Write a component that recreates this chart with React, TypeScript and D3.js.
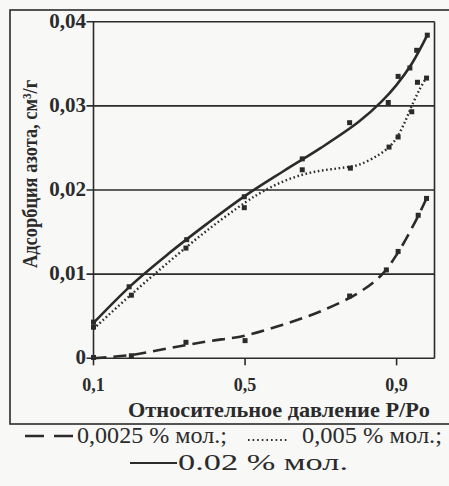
import React from 'react'
import { scaleLinear, line, curveCatmullRom } from 'd3'

// measured points (square markers): relative pressure P/Po -> adsorption, cm3/g
const xSolid = [0.1, 0.194, 0.346, 0.498, 0.651, 0.776, 0.878, 0.904, 0.935, 0.953, 0.981]
const ySolid = [0.0043, 0.0085, 0.0141, 0.0192, 0.0237, 0.028, 0.0304, 0.0335, 0.0345, 0.0366, 0.0384]

const xDotted = [0.1, 0.2, 0.344, 0.498, 0.651, 0.778, 0.88, 0.904, 0.94, 0.955, 0.979]
const yDotted = [0.0037, 0.0075, 0.0131, 0.0179, 0.0224, 0.0226, 0.0251, 0.0263, 0.0293, 0.0328, 0.0333]

const xDashed = [0.1, 0.2, 0.344, 0.5, 0.776, 0.873, 0.904, 0.957, 0.979]
const yDashed = [0.0001, 0.0003, 0.0019, 0.0021, 0.0074, 0.0105, 0.0127, 0.017, 0.019]

// the smoothed trend lines as they are drawn in the scan
const xSolidFit = [0.1, 0.2, 0.3, 0.4, 0.5, 0.6, 0.7, 0.8, 0.86, 0.9, 0.94, 0.981]
const ySolidFit = [0.0042, 0.0087, 0.0125, 0.016, 0.0193, 0.0222, 0.025, 0.0281, 0.0305, 0.0325, 0.035, 0.0384]

const xDottedFit = [0.1, 0.2, 0.3, 0.4, 0.5, 0.55, 0.6, 0.65, 0.7, 0.75, 0.8, 0.85, 0.88, 0.9, 0.92, 0.94, 0.96, 0.979]
const yDottedFit = [0.0035, 0.0076, 0.0115, 0.0152, 0.0185, 0.0199, 0.021, 0.0218, 0.0223, 0.0226, 0.023, 0.0241, 0.0251, 0.0262, 0.0279, 0.03, 0.0319, 0.0334]

const xDashedFit = [0.1, 0.2, 0.3, 0.4, 0.5, 0.6, 0.7, 0.8, 0.86, 0.9, 0.95, 0.979]
const yDashedFit = [0.0, 0.0004, 0.0012, 0.002, 0.0027, 0.004, 0.0056, 0.0078, 0.0099, 0.0123, 0.0163, 0.019]

const yTicks = [0, 0.01, 0.02, 0.03, 0.04]
const yTickLabels = ['0', '0,01', '0,02', '0,03', '0,04']
const xTicks = [0.1, 0.5, 0.9]
const xTickLabels = ['0,1', '0,5', '0,9']

const width = 449
const height = 486
const ink = '#2b2b2b'
const serif = { fontFamily: "'Liberation Serif', 'Times New Roman', serif" }

const x = scaleLinear().domain([0.1, 1.0]).range([93.5, 434.5])
const y = scaleLinear().domain([0, 0.04]).range([358.3, 21.7])

const toPts = (xs: number[], ys: number[]): [number, number][] => xs.map((v, i) => [v, ys[i]])

const curve = line<[number, number]>()
  .x(d => x(d[0]))
  .y(d => y(d[1]))
  .curve(curveCatmullRom)

const series = [
  { pts: toPts(xSolid, ySolid), fit: toPts(xSolidFit, ySolidFit), dash: 'none', w: 2.6 },
  { pts: toPts(xDotted, yDotted), fit: toPts(xDottedFit, yDottedFit), dash: '1.6 2.6', w: 2.4 },
  { pts: toPts(xDashed, yDashed), fit: toPts(xDashedFit, yDashedFit), dash: '13 7', w: 2.6 },
]

function App() {
  const [x0, x1] = x.range()
  const [y0, y1] = y.range()
  return (
    <svg width={width} height={height} style={{ position: 'absolute', left: 0, top: 0 }}>
      <rect width={width} height={height} fill="#f8f8f7" />
      {/* outer frame of the figure */}
      <rect x={10} y={10} width={450} height={414} fill="none" stroke={ink} strokeWidth={1.6} />

      {/* grid + plot box */}
      {yTicks.map(t => (
        <line key={'g' + t} x1={x0 - 7} x2={x1} y1={y(t)} y2={y(t)} stroke={ink} strokeWidth={1.6} />
      ))}
      <line x1={x0} x2={x0} y1={y1} y2={y0} stroke={ink} strokeWidth={1.6} />
      <line x1={x1} x2={x1} y1={y1} y2={y0} stroke={ink} strokeWidth={1.6} />
      {xTicks.map(t => (
        <line key={'xt' + t} x1={x(t)} x2={x(t)} y1={y0} y2={y0 + 7} stroke={ink} strokeWidth={1.6} />
      ))}

      {yTicks.map((t, i) => (
        <text key={'yl' + t} x={86} y={y(t) + 6} textAnchor="end" style={serif} fontWeight="bold" fontSize={21} fill={ink}>
          {yTickLabels[i]}
        </text>
      ))}
      {xTicks.map((t, i) => (
        <text key={'xl' + t} x={x(t)} y={391} textAnchor="middle" style={serif} fontWeight="bold" fontSize={18} fill={ink}>
          {xTickLabels[i]}
        </text>
      ))}

      <text x={128} y={417} style={serif} fontWeight="bold" fontSize={21} fill={ink}
        textLength={302} lengthAdjust="spacingAndGlyphs">
        Относительное давление  P/Po
      </text>
      <text transform="translate(37,268) rotate(-90)" style={serif} fontWeight="bold" fontSize={21} fill={ink}
        textLength={188} lengthAdjust="spacingAndGlyphs">
        Адсорбция азота,  см³/г
      </text>

      {series.map((s, i) => (
        <g key={i}>
          <path d={curve(s.fit) || ''} fill="none" stroke={ink} strokeWidth={s.w} strokeDasharray={s.dash} strokeLinecap="butt" />
          {s.pts.map((p, j) => (
            <rect key={j} x={x(p[0]) - 2.5} y={y(p[1]) - 2.5} width={5} height={5} fill={ink} />
          ))}
        </g>
      ))}

      {/* legend */}
      <line x1={25} x2={75} y1={436} y2={436} stroke={ink} strokeWidth={2.4} strokeDasharray="19 10" />
      <text x={77} y={443} style={serif} fontSize={24} fill={ink} textLength={150} lengthAdjust="spacingAndGlyphs">
        0,0025 % мол.;
      </text>
      <line x1={248} x2={288} y1={440} y2={440} stroke={ink} strokeWidth={2} strokeDasharray="1.6 3" />
      <text x={302} y={443} style={serif} fontSize={24} fill={ink} textLength={140} lengthAdjust="spacingAndGlyphs">
        0,005 % мол.;
      </text>
      <line x1={130} x2={177} y1={463} y2={463} stroke={ink} strokeWidth={2.2} />
      <text x={178} y={470} style={serif} fontSize={24} fill={ink} textLength={170} lengthAdjust="spacingAndGlyphs">
        0.02 % мол.
      </text>
    </svg>
  )
}

export default App
